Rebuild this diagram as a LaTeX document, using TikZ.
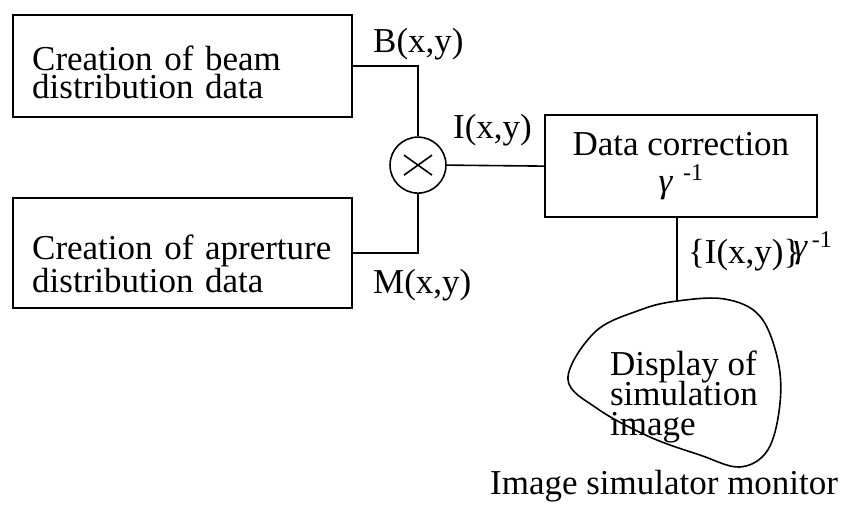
\documentclass[tikz,border=0pt]{standalone}
\usepackage{fontspec}
\setmainfont{Liberation Serif}
\setlength{\lineskiplimit}{-100pt}

\begin{document}
\begin{tikzpicture}[scale=1.000000,x=1pt,y=1pt,
  txt/.style={font=\fontsize{35}{30}\selectfont,inner sep=0pt},
  block/.style={draw,line width=1.6pt,txt,inner xsep=19pt},
  wire/.style={line width=1.6pt}]
\filldraw[color=white] (0.000000,0.000000) rectangle (846.000000,509.000000);
% Drawing blocks
% Block 1: beam data
\node[block,align=left,text width=301pt,minimum width=339pt,minimum height=102pt] (beam) at (182.500000,443.000000) {\rule{0pt}{38pt}Creation of beam\\[-2pt]distribution data};
% Block 2: aperture data
\node[block,align=left,text width=301pt,minimum width=339pt,minimum height=110pt] (aper) at (182.500000,256.000000) {\rule{0pt}{46pt}Creation of aprerture\\distribution data};
% Block 3: correction
\node[block,align=center,minimum width=272pt,minimum height=102pt] (corr) at (681.000000,343.000000) {Data correction\\[7pt]\textit{γ}\hspace{10pt}\raisebox{12pt}{\fontsize{24}{24}\selectfont -1}};
% Multiplier
\node[draw,circle,line width=1.6pt,minimum size=56pt,inner sep=0pt] (mul) at (418.000000,344.000000) {};
\draw[wire] ([shift={(-14,-10)}]mul.center) -- ([shift={(14,10)}]mul.center);
\draw[wire] ([shift={(-14,10)}]mul.center) -- ([shift={(14,-10)}]mul.center);
% Monitor outline
\coordinate (scrtop) at (677.000000,208.000000);
\draw[wire] plot[smooth cycle,tension=0.6] coordinates {(568,130) (595,177) (640,199) (677,208) (725,210) (760,193) (778,149) (780,104) (768,59) (740,42) (700,54) (650,72) (598,100)};
\node[txt,align=left,anchor=west] (disp) at (610.000000,112.000000) {Display of\\simulation\\image};
% Done with blocks; drawing wires
\draw[wire] (beam.east) -| (mul.north);
\draw[wire] (aper.east) -| (mul.south);
\draw[wire] (mul.east) -- (corr.west);
\draw[wire] (corr.south -| scrtop) -- (scrtop);
% Done with wires; drawing labels
\node[txt,anchor=base west] (blab) at (373.000000,457.000000) {B(x,y)};
\node[txt,anchor=base west] (mlab) at (373.000000,216.000000) {M(x,y)};
\node[txt,anchor=base west] (ilab) at (453.000000,371.000000) {I(x,y)};
\node[txt,anchor=base west] (glab) at (688.000000,246.000000) {\{I(x,y)\}\kern-7pt\raisebox{6pt}{\textit{γ}}\hspace{4pt}\raisebox{16pt}{\fontsize{24}{24}\selectfont -1}};
\node[txt,anchor=base west] (mon) at (490.000000,14.000000) {Image simulator monitor};
% Done with labels
\end{tikzpicture}
\end{document}
